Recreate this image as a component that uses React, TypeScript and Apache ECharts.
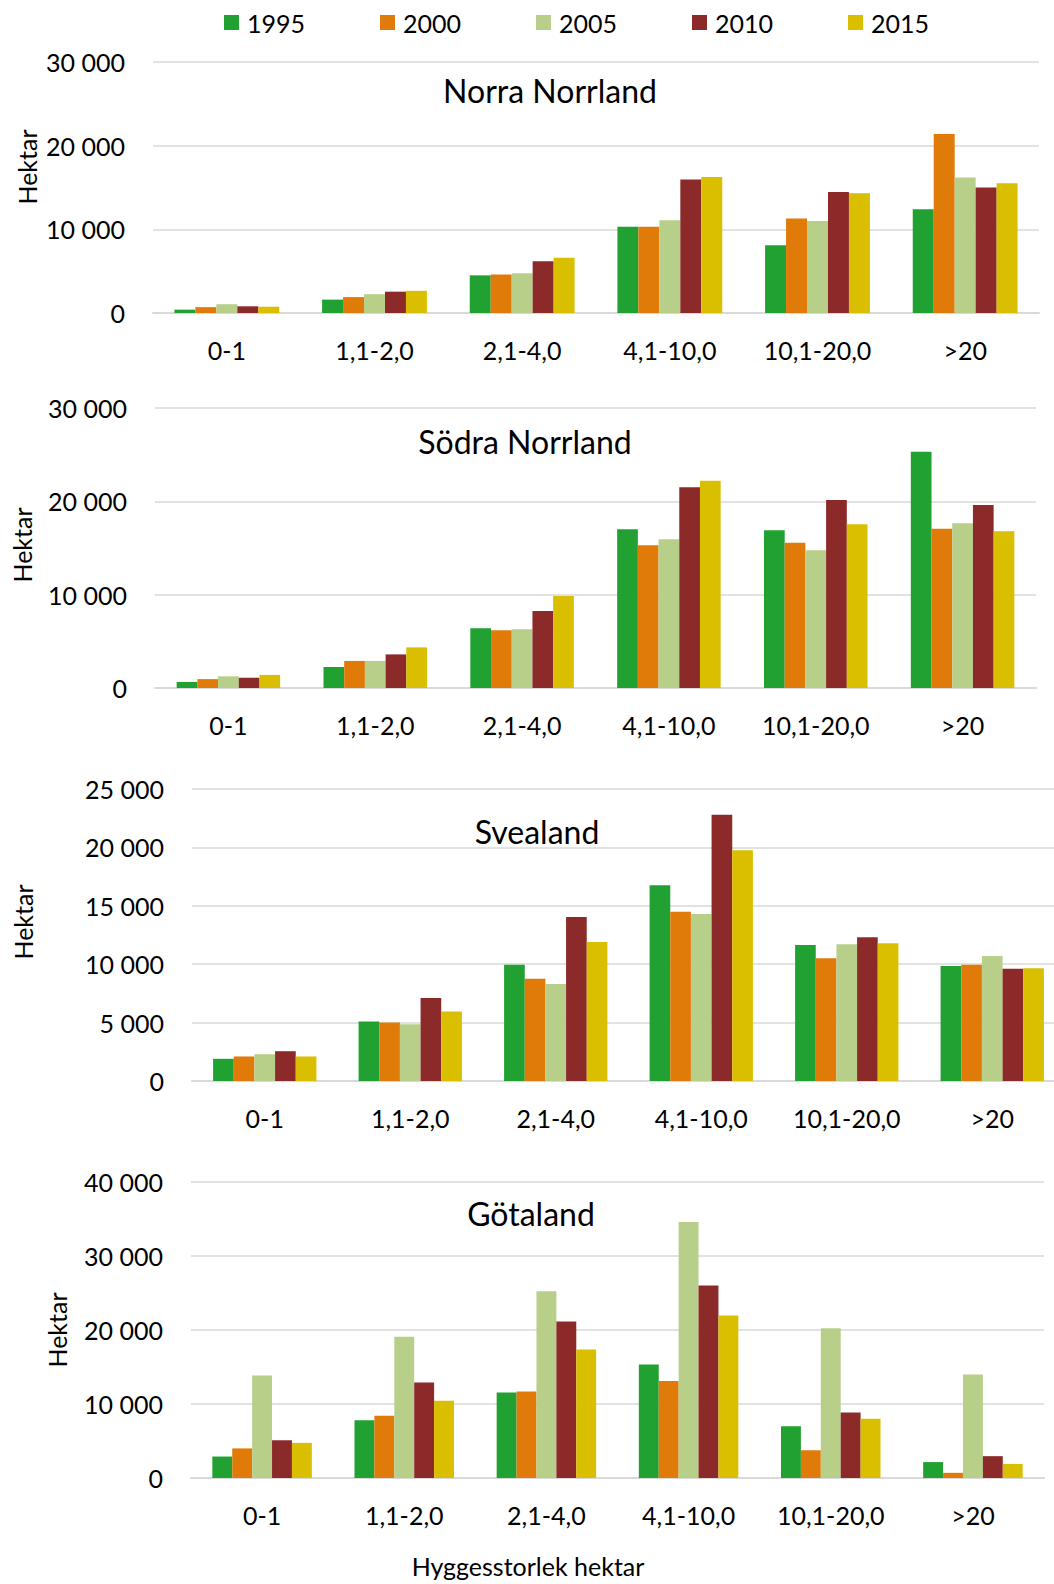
import React, { useEffect, useRef } from "react";
import * as echarts from "echarts";

const categories = ["0-1", "1,1-2,0", "2,1-4,0", "4,1-10,0", "10,1-20,0", ">20"];
const years = ["1995", "2000", "2005", "2010", "2015"];
const colors = ["#21A131", "#E07B0A", "#B8CF8A", "#8C2A2A", "#D9BF00"];

const regionNames = ["Norra Norrland", "Södra Norrland", "Svealand", "Götaland"];

const norra1995 = [400, 1600, 4500, 10300, 8100, 12400];
const norra2000 = [700, 1900, 4600, 10300, 11300, 21400];
const norra2005 = [1050, 2250, 4750, 11100, 11000, 16200];
const norra2010 = [800, 2550, 6200, 15950, 14450, 15000];
const norra2015 = [750, 2650, 6600, 16250, 14300, 15500];

const sodra1995 = [650, 2250, 6400, 17000, 16900, 25300];
const sodra2000 = [950, 2900, 6200, 15300, 15550, 17050];
const sodra2005 = [1250, 2900, 6300, 15950, 14750, 17650];
const sodra2010 = [1100, 3600, 8250, 21500, 20150, 19600];
const sodra2015 = [1400, 4350, 9850, 22200, 17550, 16800];

const svea1995 = [1900, 5100, 9950, 16750, 11650, 9850];
const svea2000 = [2100, 5000, 8750, 14500, 10500, 9950];
const svea2005 = [2300, 4850, 8300, 14300, 11700, 10700];
const svea2010 = [2550, 7100, 14050, 22800, 12300, 9600];
const svea2015 = [2100, 5950, 11900, 19750, 11800, 9650];

const gota1995 = [2900, 7800, 11550, 15350, 7000, 2150];
const gota2000 = [4000, 8400, 11700, 13100, 3750, 700];
const gota2005 = [13850, 19100, 25250, 34600, 20250, 14000];
const gota2010 = [5100, 12900, 21150, 26000, 8850, 2950];
const gota2015 = [4750, 10450, 17350, 21950, 8000, 1900];

const regionData = [
  [norra1995, norra2000, norra2005, norra2010, norra2015],
  [sodra1995, sodra2000, sodra2005, sodra2010, sodra2015],
  [svea1995, svea2000, svea2005, svea2010, svea2015],
  [gota1995, gota2000, gota2005, gota2010, gota2015],
];

const yMax = [30000, 30000, 25000, 40000];
const yInterval = [10000, 10000, 5000, 10000];

const yAxisName = "Hektar";
const xAxisName = "Hyggesstorlek hektar";

// layout (pixels)
const grids = [
  { left: 153, width: 886, top: 62, height: 251 },
  { left: 155, width: 881, top: 408, height: 280 },
  { left: 192, width: 873, top: 789, height: 292 },
  { left: 191, width: 853, top: 1182, height: 296 },
];
const catGaps = ["29%", "29.5%", "29%", "30%"];
const titlePos = [
  [550, 90],
  [525, 441],
  [537, 831],
  [531, 1213],
];
const hektarPos = [
  [27, 167],
  [22, 545],
  [23, 922],
  [57, 1330],
];

const FONT = "Lato, 'Open Sans', sans-serif";
const TEXT_COLOR = "#000";

function fmt(v: number) {
  return String(v).replace(/\B(?=(\d{3})+(?!\d))/g, " ");
}

export default function App() {
  const ref = useRef<HTMLDivElement>(null);

  useEffect(() => {
    if (!ref.current) return;
    const chart = echarts.init(ref.current, null, { renderer: "svg" });

    const xAxis = grids.map((_, i) => ({
      type: "category",
      gridIndex: i,
      data: categories,
      axisTick: { show: false },
      axisLine: { lineStyle: { color: "#d9d9d9", width: 2 } },
      axisLabel: {
        color: TEXT_COLOR,
        fontFamily: FONT,
        fontSize: 25,
        margin: 24,
        interval: 0,
      },
    }));

    const yAxis = grids.map((_, i) => ({
      type: "value",
      gridIndex: i,
      min: 0,
      max: yMax[i],
      interval: yInterval[i],
      axisLine: { show: false },
      axisTick: { show: false },
      splitLine: { lineStyle: { color: "#d9d9d9", width: 1.5 } },
      axisLabel: {
        color: TEXT_COLOR,
        fontFamily: FONT,
        fontSize: 25,
        margin: 28,
        formatter: (v: number) => fmt(v),
      },
    }));

    const series: any[] = [];
    regionData.forEach((rd, gi) => {
      rd.forEach((vals, yi) => {
        series.push({
          type: "bar",
          name: years[yi],
          xAxisIndex: gi,
          yAxisIndex: gi,
          data: vals,
          barGap: "0%",
          barCategoryGap: catGaps[gi],
          itemStyle: { color: colors[yi] },
        });
      });
    });

    const graphic: any[] = [];
    regionNames.forEach((name, i) => {
      graphic.push({
        type: "text",
        x: titlePos[i][0],
        y: titlePos[i][1],
        style: {
          text: name,
          fontFamily: FONT,
          fontSize: 32,
          fill: TEXT_COLOR,
          align: "center",
          verticalAlign: "middle",
        },
      });
      graphic.push({
        type: "text",
        x: hektarPos[i][0],
        y: hektarPos[i][1],
        rotation: Math.PI / 2,
        style: {
          text: yAxisName,
          fontFamily: FONT,
          fontSize: 25,
          fill: TEXT_COLOR,
          align: "center",
          verticalAlign: "middle",
        },
      });
    });
    graphic.push({
      type: "text",
      x: 528,
      y: 1566,
      style: {
        text: xAxisName,
        fontFamily: FONT,
        fontSize: 25,
        fill: TEXT_COLOR,
        align: "center",
        verticalAlign: "middle",
      },
    });

    chart.setOption({
      animation: false,
      color: colors,
      legend: {
        data: years,
        left: 219,
        top: 5,
        icon: "rect",
        itemWidth: 15,
        itemHeight: 15,
        itemGap: 75,
        textStyle: {
          color: TEXT_COLOR,
          fontFamily: FONT,
          fontSize: 25,
          lineHeight: 25,
          padding: [0, 0, 0, 3],
        },
      },
      grid: grids.map((g) => ({ ...g, containLabel: false, outerBoundsMode: "none" })),
      xAxis,
      yAxis,
      series,
      graphic,
    });

    return () => chart.dispose();
  }, []);

  return (
    <div
      ref={ref}
      style={{ position: "absolute", left: 0, top: 0, width: 1054, height: 1584 }}
    />
  );
}
